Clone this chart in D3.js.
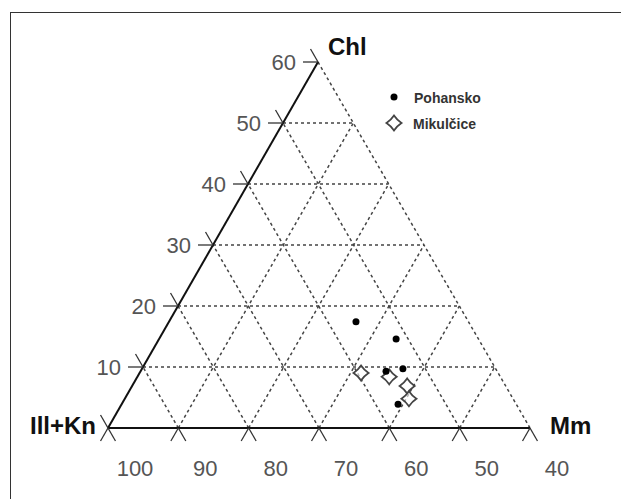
<!DOCTYPE html>
<html lang="en">
<head>
    <meta charset="UTF-8">
    <title>Ternary plot Ill+Kn - Chl - Mm</title>
    <script src="https://d3js.org/d3.v7.min.js"></script>
    <style>
        body { margin: 0; background: #fff; font-family: "Liberation Sans", Arial, sans-serif; }
        .grid { stroke: #444; stroke-width: 1.5; stroke-dasharray: 3,3; fill: none; }
        .edge { stroke: #111; stroke-width: 2; }
        .tick { stroke: #333; stroke-width: 1.3; }
        .ticklabel { fill: #555; font-size: 22px; }
        .apex { fill: #111; font-size: 24px; font-weight: bold; }
        .legtext { fill: #333; font-size: 14px; font-weight: bold; }
    </style>
</head>
<body>
    <svg width="621" height="499"></svg>

    <script>
        // Chl ticks on the left edge, Ill+Kn ticks on the bottom
        const chlTicks = [10, 20, 30, 40, 50, 60];
        const illTicks = [100, 90, 80, 70, 60, 50, 40];

        // samples (Chl %, Mm %); Ill+Kn = 100 - Chl - Mm
        const pohanskoChl = [17.4, 14.6, 9.3, 9.7, 3.9];
        const pohanskoMm  = [26.6, 33.7, 34.9, 37.1, 39.3];
        const mikulciceChl = [9.0, 8.4, 6.9, 4.8];
        const mikulciceMm  = [31.5, 35.8, 39.1, 40.4];

        const svg = d3.select("svg");

        // frame
        svg.append("rect")
            .attr("x", 10.5).attr("y", 12.5)
            .attr("width", 700).attr("height", 600)
            .attr("fill", "none").attr("stroke", "#333").attr("stroke-width", 1);

        // ternary projection: Mm along the bottom, Chl upwards (with shear)
        const mmX = d3.scaleLinear().domain([0, 60]).range([108, 530]);
        const chlY = d3.scaleLinear().domain([0, 60]).range([428, 62]);
        const chlDx = d3.scaleLinear().domain([0, 60]).range([0, 210]);
        const proj = (chl, mm) => [mmX(mm) + chlDx(chl), chlY(chl)];

        const line = d3.line();
        const g = svg.append("g");

        // dashed grid: Chl const, Ill const (incl. right edge), Mm const
        const gridSegs = [];
        chlTicks.filter(c => c < 60).forEach(c => gridSegs.push([proj(c, 0), proj(c, 60 - c)]));
        illTicks.filter(i => i < 100).forEach(i => gridSegs.push([proj(0, 100 - i), proj(100 - i, 0)]));
        illTicks.filter(i => i > 40 && i < 100).forEach(i => gridSegs.push([proj(0, 100 - i), proj(60 - (100 - i), 100 - i)]));

        g.selectAll("path.grid")
            .data(gridSegs)
            .enter().append("path")
            .attr("class", "grid")
            .attr("d", line);

        // solid edges: left (Mm = 0) and bottom (Chl = 0)
        g.append("path").attr("class", "edge").attr("d", line([proj(0, 0), proj(60, 0)]));
        g.append("path").attr("class", "edge").attr("d", line([proj(0, 0), proj(0, 60)]));

        // tick marks
        const L = 15, ux = 0.498, uy = 0.867;
        const tickSegs = [];
        [0].concat(chlTicks).forEach(c => {
            const p = proj(c, 0);
            if (c > 0) tickSegs.push([p, [p[0] - L, p[1]]]);
            tickSegs.push([p, [p[0] - L * ux, p[1] - L * uy]]);
        });
        illTicks.forEach(i => {
            const p = proj(0, 100 - i);
            tickSegs.push([p, [p[0] - L * ux, p[1] + L * uy]]);
            tickSegs.push([p, [p[0] + L * ux, p[1] + L * uy]]);
        });
        g.selectAll("path.tick")
            .data(tickSegs)
            .enter().append("path")
            .attr("class", "tick")
            .attr("d", line);

        // tick labels
        g.selectAll("text.chl")
            .data(chlTicks)
            .enter().append("text")
            .attr("class", "ticklabel")
            .attr("x", c => proj(c, 0)[0] - 22)
            .attr("y", c => proj(c, 0)[1] + 8)
            .attr("text-anchor", "end")
            .text(d => d);

        g.selectAll("text.ill")
            .data(illTicks)
            .enter().append("text")
            .attr("class", "ticklabel")
            .attr("x", i => proj(0, 100 - i)[0] + 27)
            .attr("y", i => proj(0, 100 - i)[1] + 48)
            .attr("text-anchor", "middle")
            .text(d => d);

        // apex labels
        const apexTop = proj(60, 0), apexLeft = proj(0, 0), apexRight = proj(0, 60);
        g.append("text").attr("class", "apex").attr("x", apexTop[0] + 10).attr("y", apexTop[1] - 7).text("Chl");
        g.append("text").attr("class", "apex").attr("x", apexLeft[0] - 12).attr("y", apexLeft[1] + 6)
            .attr("text-anchor", "end").text("Ill+Kn");
        g.append("text").attr("class", "apex").attr("x", apexRight[0] + 20).attr("y", apexRight[1] + 6).text("Mm");

        // slightly concave diamond marker
        const star = s => `M0,${-s} Q${s * 0.4},${-s * 0.4} ${s},0 Q${s * 0.4},${s * 0.4} 0,${s} ` +
                          `Q${-s * 0.4},${s * 0.4} ${-s},0 Q${-s * 0.4},${-s * 0.4} 0,${-s} Z`;

        // Mikulčice
        g.selectAll("path.mik")
            .data(mikulciceChl.map((c, i) => proj(c, mikulciceMm[i])))
            .enter().append("path")
            .attr("transform", d => `translate(${d[0]},${d[1]})`)
            .attr("d", star(7.5))
            .attr("fill", "white").attr("fill-opacity", 0.6)
            .attr("stroke", "#444").attr("stroke-width", 1.8);

        // Pohansko
        g.selectAll("circle.poh")
            .data(pohanskoChl.map((c, i) => proj(c, pohanskoMm[i])))
            .enter().append("circle")
            .attr("cx", d => d[0]).attr("cy", d => d[1])
            .attr("r", 3.5).attr("fill", "#000");

        // legend
        const leg = svg.append("g").attr("transform", "translate(394,97)");
        leg.append("circle").attr("r", 3.5).attr("fill", "#000");
        leg.append("text").attr("class", "legtext").attr("x", 20).attr("y", 6).text("Pohansko");
        leg.append("path").attr("transform", "translate(0,26)").attr("d", star(7.5))
            .attr("fill", "white").attr("stroke", "#444").attr("stroke-width", 1.8);
        leg.append("text").attr("class", "legtext").attr("x", 19).attr("y", 32).text("Mikulčice");
    </script>
</body>
</html>
